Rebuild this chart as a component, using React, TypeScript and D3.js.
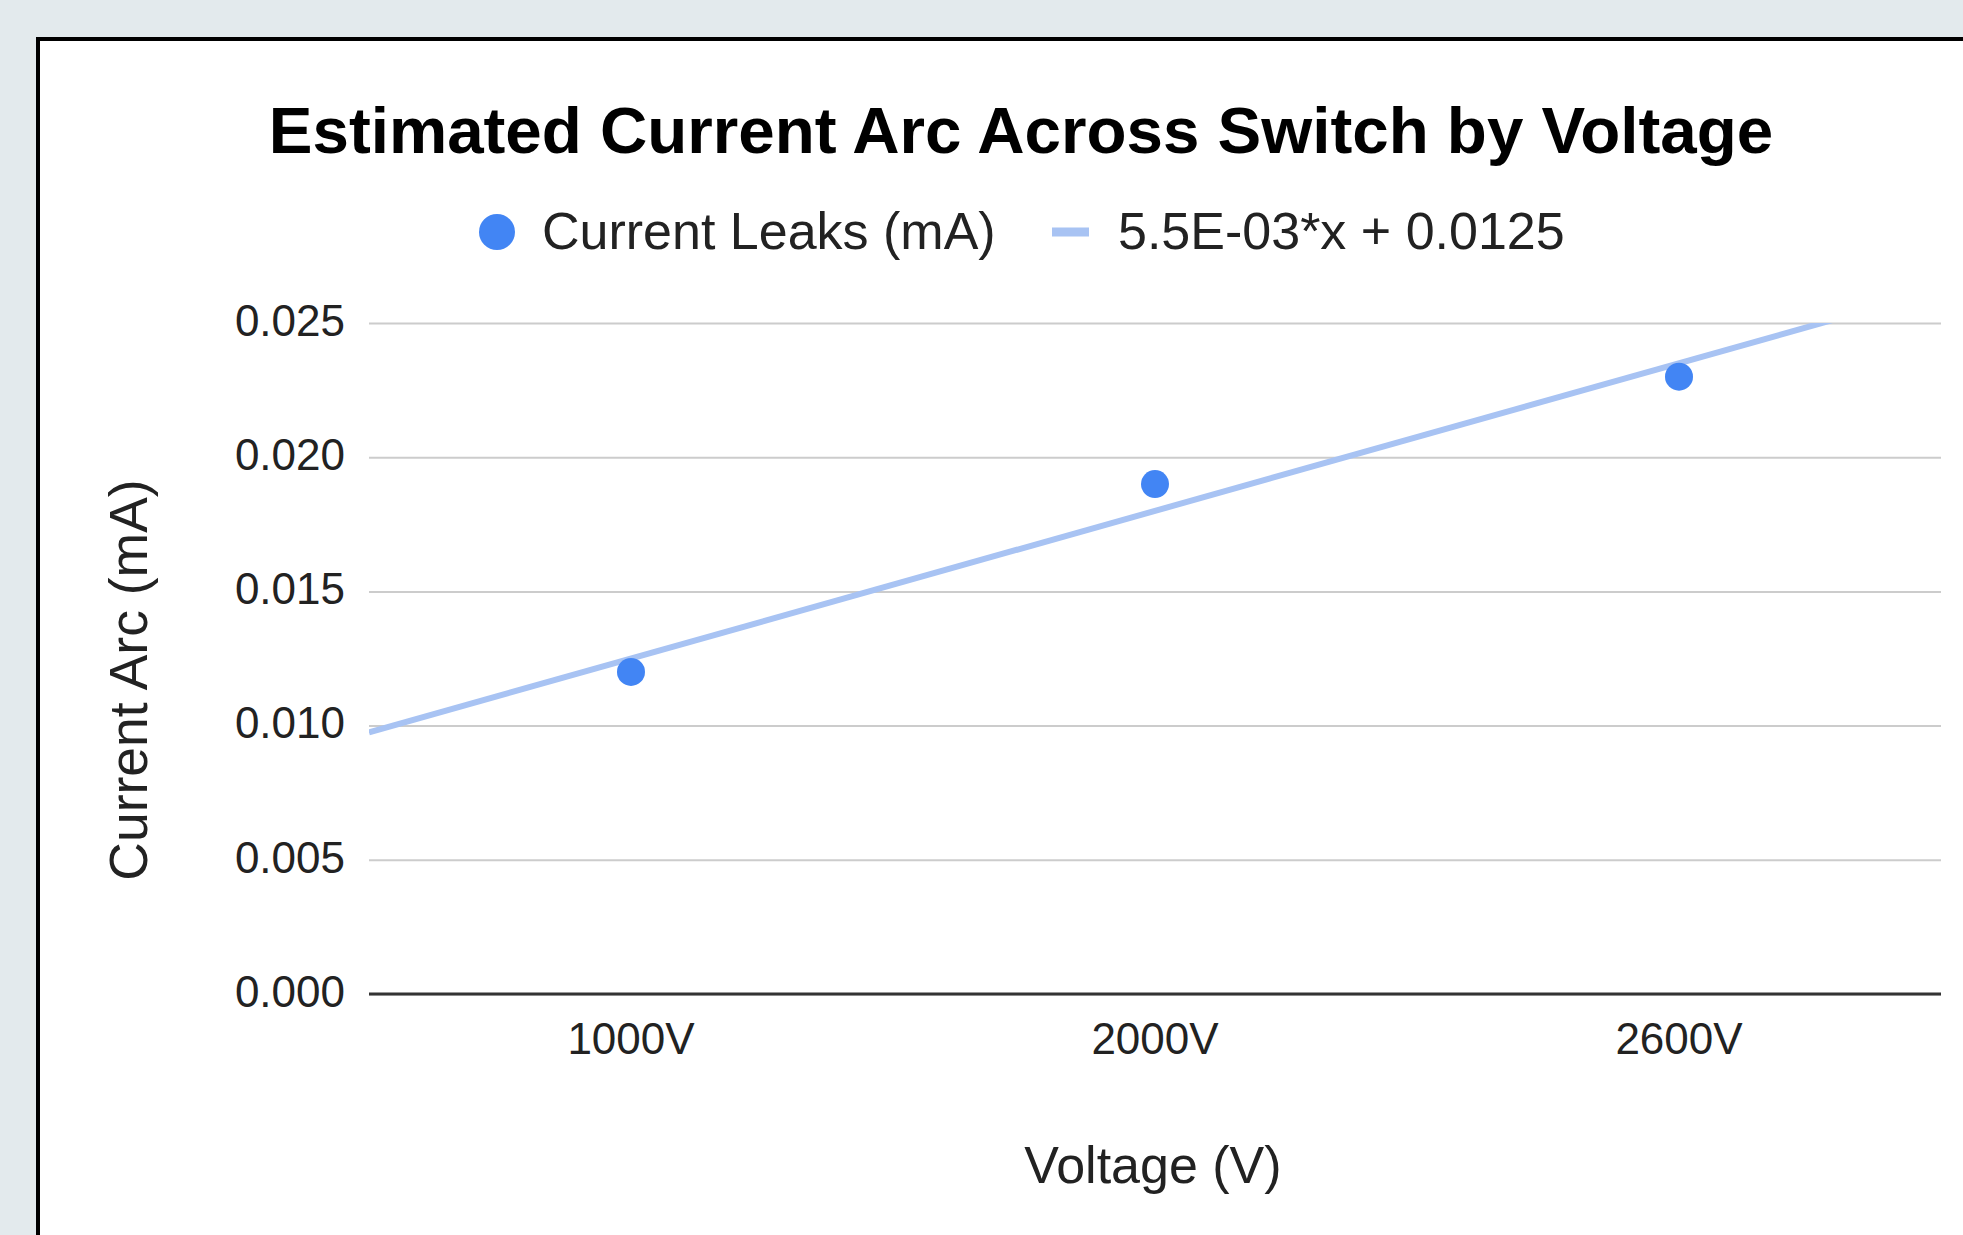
import { useEffect, useRef } from 'react';
import * as d3 from 'd3';

const CATEGORIES = ['1000V', '2000V', '2600V'];
const CURRENT_LEAKS = [0.012, 0.019, 0.023];
const Y_TICKS = [0, 0.005, 0.01, 0.015, 0.02, 0.025];
// trendline as given in the legend (x = category index)
const TREND_SLOPE = 0.0055;
const TREND_INTERCEPT = 0.0125;
const LEGEND_LABELS = ['Current Leaks (mA)', '5.5E-03*x + 0.0125'];

const WIDTH = 1963;
const HEIGHT = 1235;
const FONT = '"Liberation Sans", Arial, sans-serif';

const POINT_COLOR = '#4285f4';
const TREND_COLOR = '#a8c3f3';

export default function App() {
  const svgRef = useRef<SVGSVGElement>(null);

  useEffect(() => {
    if (!svgRef.current) return;
    document.body.style.margin = '0';

    const svg = d3.select(svgRef.current);
    svg.selectAll('*').remove();
    svg.attr('width', WIDTH).attr('height', HEIGHT);

    const margin = { left: 369, right: 22, top: 323, bottom: 241 };
    const plotW = WIDTH - margin.left - margin.right;
    const plotH = HEIGHT - margin.top - margin.bottom;

    // page + framed chart
    svg.append('rect').attr('width', WIDTH).attr('height', HEIGHT).attr('fill', '#e3eaed');
    svg.append('rect')
      .attr('x', 38).attr('y', 39)
      .attr('width', WIDTH).attr('height', HEIGHT)
      .attr('fill', '#ffffff')
      .attr('stroke', '#000000')
      .attr('stroke-width', 4);

    const x = d3.scaleBand<string>().domain(CATEGORIES).range([0, plotW]);
    const y = d3.scaleLinear().domain([0, 0.025]).range([plotH, 0]);
    const cx = (i: number) => x.bandwidth() * (i + 0.5);

    const g = svg.append('g').attr('transform', `translate(${margin.left},${margin.top})`);

    // gridlines + y labels
    const yAxis = d3.axisLeft(y).tickValues(Y_TICKS).tickFormat(d3.format('.3f')).tickSize(-plotW).tickPadding(24);
    const yg = g.append('g').call(yAxis);
    yg.select('.domain').remove();
    yg.selectAll('.tick line').attr('stroke', '#cccccc').attr('stroke-width', 2);
    yg.selectAll('.tick text')
      .attr('font-family', FONT)
      .attr('font-size', 44)
      .attr('fill', '#222222')
      .attr('dy', '0.28em');

    // baseline
    g.append('line')
      .attr('x1', 0).attr('x2', plotW)
      .attr('y1', y(0)).attr('y2', y(0))
      .attr('stroke', '#333333')
      .attr('stroke-width', 3);

    // x labels
    const xAxis = d3.axisBottom(x).tickSize(0).tickPadding(29);
    const xg = g.append('g').attr('transform', `translate(0,${plotH})`).call(xAxis);
    xg.select('.domain').remove();
    xg.selectAll('.tick text')
      .attr('font-family', FONT)
      .attr('font-size', 44)
      .attr('fill', '#222222');

    // trendline, clipped to plot area
    g.append('clipPath').attr('id', 'plot-clip')
      .append('rect').attr('width', plotW).attr('height', plotH);

    const trendX = [-0.5, CATEGORIES.length - 0.5];
    const line = d3.line<number>()
      .x(i => cx(i))
      .y(i => y(TREND_INTERCEPT + TREND_SLOPE * i));
    g.append('path')
      .datum(trendX)
      .attr('clip-path', 'url(#plot-clip)')
      .attr('d', line)
      .attr('fill', 'none')
      .attr('stroke', TREND_COLOR)
      .attr('stroke-width', 6);

    // points
    g.selectAll('.pt')
      .data(CURRENT_LEAKS)
      .enter()
      .append('circle')
      .attr('class', 'pt')
      .attr('cx', (_d, i) => cx(i))
      .attr('cy', d => y(d))
      .attr('r', 14)
      .attr('fill', POINT_COLOR);

    // title
    svg.append('text')
      .attr('x', 1021).attr('y', 153)
      .attr('text-anchor', 'middle')
      .attr('font-family', FONT)
      .attr('font-size', 65.5)
      .attr('font-weight', 'bold')
      .attr('fill', '#000000')
      .text('Estimated Current Arc Across Switch by Voltage');

    // legend
    const legend = svg.append('g').attr('font-family', FONT).attr('font-size', 52).attr('fill', '#222222');
    legend.append('circle').attr('cx', 497).attr('cy', 232).attr('r', 18).attr('fill', POINT_COLOR);
    legend.append('text').attr('x', 542).attr('y', 249).text(LEGEND_LABELS[0]);
    legend.append('line')
      .attr('x1', 1052).attr('x2', 1089)
      .attr('y1', 232).attr('y2', 232)
      .attr('stroke', TREND_COLOR)
      .attr('stroke-width', 9);
    legend.append('text').attr('x', 1118).attr('y', 249).text(LEGEND_LABELS[1]);

    // axis titles
    svg.append('text')
      .attr('x', margin.left + plotW / 2 - 2).attr('y', 1183)
      .attr('text-anchor', 'middle')
      .attr('font-family', FONT)
      .attr('font-size', 52)
      .attr('fill', '#222222')
      .text('Voltage (V)');

    svg.append('text')
      .attr('transform', `translate(147,680) rotate(-90)`)
      .attr('text-anchor', 'middle')
      .attr('font-family', FONT)
      .attr('font-size', 53.5)
      .attr('fill', '#222222')
      .text('Current Arc (mA)');
  }, []);

  return (
    <div style={{ position: 'absolute', left: 0, top: 0 }}>
      <svg ref={svgRef}></svg>
    </div>
  );
}
